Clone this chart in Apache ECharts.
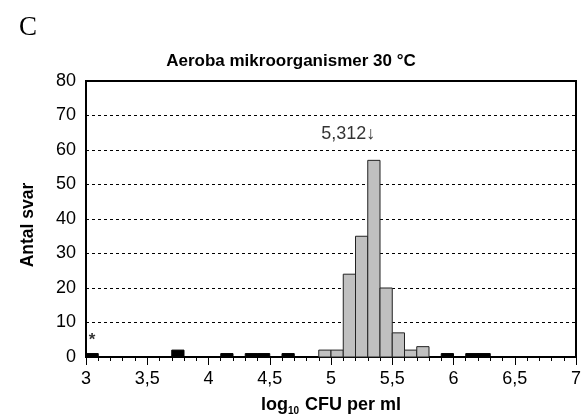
<!DOCTYPE html>
<html><head><meta charset="utf-8">
<script src="https://cdn.jsdelivr.net/npm/echarts@6/dist/echarts.min.js"></script>
<style>html,body{margin:0;padding:0;background:#fff}#c{width:582px;height:417px}</style>
</head><body><div id="c"></div>
<script>
// Bin start values (log10 CFU/ml), bin width 0.1
const binWidth = 0.1;
const grayStarts = [4.9, 5.0, 5.1, 5.2, 5.3, 5.4, 5.5, 5.6, 5.7];
const grayCounts = [2, 2, 24, 35, 57, 20, 7, 2, 3];
const blackStarts = [3.0, 3.7, 4.1, 4.3, 4.4, 4.6, 5.9, 6.1, 6.2];
const blackCounts = [1, 2, 1, 1, 1, 1, 1, 1, 1];
const xTicks = [3, 3.5, 4, 4.5, 5, 5.5, 6, 6.5, 7];
const yTicks = [0, 10, 20, 30, 40, 50, 60, 70, 80];
const medianValue = 5.312;
const medianLabelY = 64.5;
const asteriskPos = [3.05, 4.8];

const FONT = 'Liberation Sans, Arial, sans-serif';
const chart = echarts.init(document.getElementById('c'), null, {renderer: 'canvas'});

function binItem(fill, stroke) {
  return function (params, api) {
    const s = api.value(0), v = api.value(1);
    const p0 = api.coord([s, 0]);
    const p1 = api.coord([s + binWidth, v]);
    return {
      type: 'rect',
      shape: {x: p0[0], y: p1[1], width: p1[0] - p0[0], height: p0[1] - p1[1]},
      style: {fill: fill, stroke: stroke, lineWidth: 1}
    };
  };
}

chart.setOption({
  animation: false,
  title: {
    text: 'Aeroba mikroorganismer 30 °C',
    left: 'center', top: 48,
    textStyle: {fontFamily: FONT, fontSize: 17, fontWeight: 'bold', color: '#000'}
  },
  graphic: [{
    type: 'text', left: 19, top: 14,
    style: {text: 'C', font: '27px "Liberation Serif", "Times New Roman", serif', fill: '#000'}
  }],
  grid: {
    left: 86, right: 6, top: 81, bottom: 60,
    containLabel: false, outerBoundsMode: 'none',
    show: true, borderColor: '#000', borderWidth: 2, backgroundColor: 'transparent'
  },
  xAxis: {
    type: 'value', min: xTicks[0], max: xTicks[xTicks.length - 1], interval: 0.5,
    axisLine: {show: true, onZero: false, lineStyle: {color: '#000', width: 2}},
    axisTick: {show: true, length: 8, lineStyle: {color: '#000', width: 1}},
    minorTick: {show: true, splitNumber: 5, length: 4, lineStyle: {color: '#000', width: 1}},
    splitLine: {show: false},
    axisLabel: {
      color: '#000', fontFamily: FONT, fontSize: 18, margin: 13,
      formatter: v => String(+v.toFixed(1)).replace('.', ',')
    },
    name: '{a|log}{s|10}{a| CFU per ml}',
    nameLocation: 'middle', nameGap: 37,
    nameTextStyle: {
      rich: {
        a: {fontFamily: FONT, fontSize: 18, fontWeight: 'bold', color: '#000', lineHeight: 22},
        s: {fontFamily: FONT, fontSize: 10, fontWeight: 'bold', color: '#000', padding: [12, 1, 0, 0], lineHeight: 22}
      }
    }
  },
  yAxis: {
    type: 'value', min: yTicks[0], max: yTicks[yTicks.length - 1], interval: 10,
    axisLine: {show: true, lineStyle: {color: '#000', width: 2}},
    axisTick: {show: false},
    splitLine: {show: true, lineStyle: {color: '#000', type: [3, 3], width: 1}},
    axisLabel: {color: '#000', fontFamily: FONT, fontSize: 18, margin: 10},
    name: 'Antal svar', nameLocation: 'middle', nameGap: 49,
    nameTextStyle: {fontFamily: FONT, fontSize: 17.5, fontWeight: 'bold', color: '#000', padding: [0, 12, 0, 0]}
  },
  series: [
    {
      type: 'custom', renderItem: binItem('#c0c0c0', '#222'),
      data: grayStarts.map((s, i) => [s, grayCounts[i]]), z: 3
    },
    {
      type: 'custom', renderItem: binItem('#000', '#000'),
      data: blackStarts.map((s, i) => [s, blackCounts[i]]), z: 3
    },
    {
      type: 'scatter', symbolSize: 0, silent: true, z: 5,
      data: [
        {value: [medianValue, medianLabelY], label: {show: true, position: 'inside', formatter: '5,312\u2193', align: 'right', offset: [6, 0],
          fontFamily: FONT, fontSize: 18, color: '#000'}},
        {value: asteriskPos, label: {show: true, position: 'inside', formatter: '*', fontFamily: FONT, fontSize: 17, fontWeight: 'bold', color: '#000'}}
      ]
    }
  ]
});
</script>
</body></html>
